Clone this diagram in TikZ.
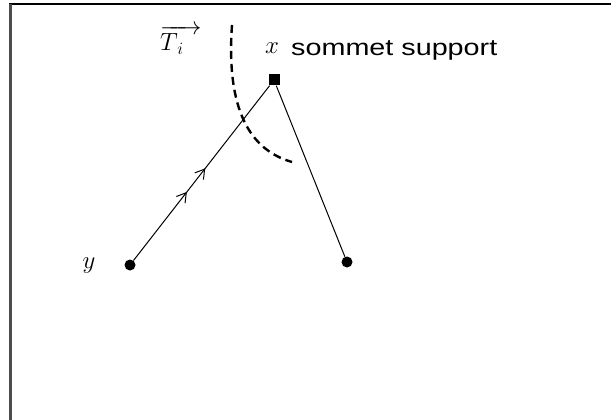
\documentclass[tikz,border=0pt]{standalone}
\usepackage{fontspec}
\setmainfont{Liberation Sans}
\usetikzlibrary{decorations.markings,arrows.meta}
\begin{document}
\begin{tikzpicture}[x=1pt,y=-1pt,
  vertex/.style={circle,fill=black,inner sep=0pt,minimum size=11pt},
  support/.style={rectangle,fill=black,inner sep=0pt,minimum size=11pt},
  edge/.style={line width=1pt},
  flow/.style={edge,postaction={decorate},decoration={markings,
    mark=at position 0.392 with {\arrow{Straight Barb[length=9pt,width=11pt,line width=1pt]}},
    mark=at position 0.527 with {\arrow{Straight Barb[length=9pt,width=11pt,line width=1pt]}}}},
  cut/.style={line width=2.4pt,dash pattern=on 8pt off 5pt},
  lbl/.style={font=\fontsize{23}{27}\selectfont,inner sep=0pt},
  mlbl/.style={font=\fontsize{25}{30}\selectfont,inner sep=0pt}]
\useasboundingbox (0,0) rectangle (611,420);
\fill[white] (0,0) rectangle (611,420);
\draw[line width=2.5pt] (9,4) -- (611,4);
\draw[line width=3pt,black!70] (10,4) -- (10,420);
\node[support] (x) at (274,80) {};
\node[vertex] (y) at (130,265) {};
\node[vertex] (z) at (347,262) {};
\draw[flow] (y) -- (x);
\draw[edge] (x) -- (z);
\draw[cut] (232,25) .. controls (226,110) and (250,150) .. (292,162);
\node[mlbl,anchor=base] (xlab) at (272,54) {$x$};
\node[lbl,anchor=base west] (sup) at (291,56) {\scalebox{1.25}[1]{sommet support}};
\node[mlbl,anchor=base] (ylab) at (89,268) {$y$};
\node[mlbl,anchor=base west] (ti) at (160,51) {$\overrightarrow{T_{\,i}\;\;\,}$};
\end{tikzpicture}
\end{document}
